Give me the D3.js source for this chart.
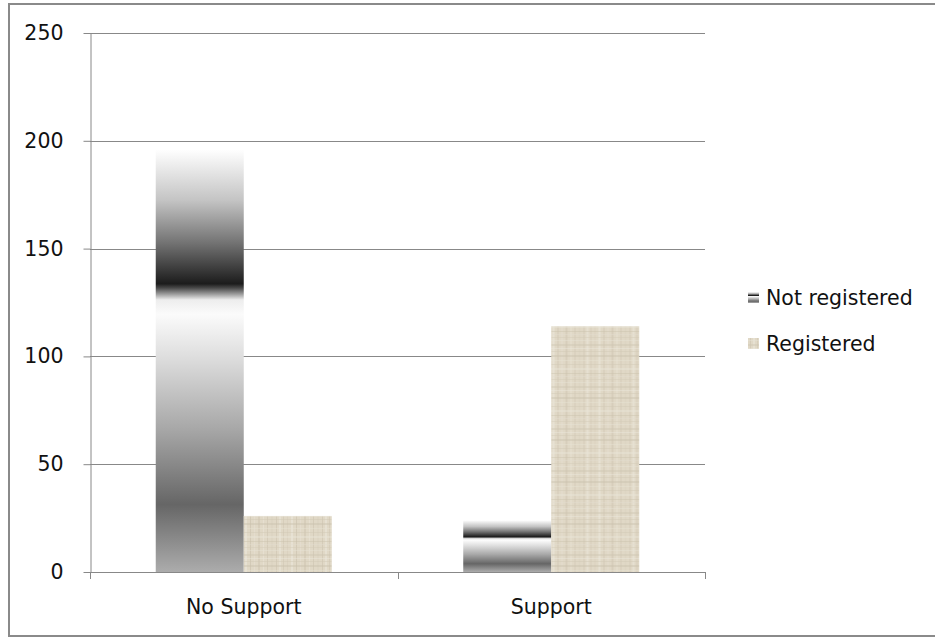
<!DOCTYPE html>
<html>
<head>
<meta charset="utf-8">
<script src="https://cdn.jsdelivr.net/npm/d3@7"></script>
<style>
  html, body { margin: 0; padding: 0; background: #fff; }
  svg { display: block; }
  text { font-family: "DejaVu Sans", sans-serif; fill: #111; }
</style>
</head>
<body>
<svg id="chart" width="935" height="638"></svg>
<script>
// Chart data
const categories = ["No Support", "Support"];
const seriesNames = ["Not registered", "Registered"];
const notRegistered = [196, 24];
const registered = [26, 114];
const yTicks = [0, 50, 100, 150, 200, 250];

const svg = d3.select("#chart");
const W = 935, H = 638;
const FONT = 20.5;

// Outer chart frame
svg.append("rect")
  .attr("x", 9).attr("y", 4)
  .attr("width", W).attr("height", 632)
  .attr("fill", "#fff")
  .attr("stroke", "#8a8a8a").attr("stroke-width", 2);

const plot = { left: 90, right: 705, top: 33, bottom: 572 };

const y = d3.scaleLinear().domain([0, 250]).range([plot.bottom, plot.top]);
const x = d3.scaleBand().domain(categories).range([plot.left, plot.right]).padding(0);
const xSub = d3.scaleBand().domain(seriesNames).range([0, x.bandwidth()])
  .paddingInner(0).paddingOuter(0.747);

const defs = svg.append("defs");

// Metallic banded gradient for the "Not registered" bars
const metal = defs.append("linearGradient")
  .attr("id", "metal").attr("x1", 0).attr("y1", 0).attr("x2", 0).attr("y2", 1);
[
  [0.00, "#ffffff"], [0.12, "#c4c4c4"], [0.22, "#747474"], [0.318, "#1c1c1c"],
  [0.328, "#4a4a4a"], [0.342, "#9a9a9a"], [0.356, "#ededed"], [0.39, "#fbfbfb"],
  [0.49, "#dedede"], [0.66, "#a8a8a8"], [0.84, "#666666"], [1.00, "#acacac"]
].forEach(([o, c]) => metal.append("stop").attr("offset", o).attr("stop-color", c));

// Woven linen texture for the "Registered" bars
const linen = defs.append("pattern")
  .attr("id", "linen").attr("patternUnits", "userSpaceOnUse")
  .attr("width", 46).attr("height", 42);
linen.append("rect").attr("width", 46).attr("height", 42).attr("fill", "#e0d8c6");
const warp = [[2, 1, "#cbc2ae"], [5, 2, "#ebe6da"], [9, 1, "#d0c7b3"], [13, 1, "#d6cebc"], [17, 2, "#ede9de"],
              [22, 1, "#c8bfab"], [26, 1, "#e6e0d2"], [30, 2, "#cfc6b2"], [35, 1, "#eae5d9"], [39, 1, "#ccc3af"], [43, 2, "#dad2c1"]];
const weft = [[1, 1, "#d3cab7"], [4, 1, "#e8e3d6"], [8, 2, "#cec5b1"], [12, 1, "#ebe6db"], [15, 1, "#d1c8b4"],
              [19, 2, "#cbc2ad"], [24, 1, "#e7e2d4"], [28, 1, "#d0c7b3"], [32, 2, "#eae5d8"], [37, 1, "#cac1ab"], [40, 1, "#e3dcce"]];
warp.forEach(([p, w, c]) => linen.append("rect").attr("x", p).attr("y", 0).attr("width", w).attr("height", 42).attr("fill", c).attr("opacity", 0.55));
weft.forEach(([p, w, c]) => linen.append("rect").attr("x", 0).attr("y", p).attr("width", 46).attr("height", w).attr("fill", c).attr("opacity", 0.45));

// Horizontal gridlines
svg.append("g").selectAll("line").data(yTicks.filter(t => t > 0)).join("line")
  .attr("x1", plot.left).attr("x2", plot.right)
  .attr("y1", d => Math.round(y(d)) + 0.5).attr("y2", d => Math.round(y(d)) + 0.5)
  .attr("stroke", "#888").attr("stroke-width", 1);

// Bars
const fills = { "Not registered": "url(#metal)", "Registered": "url(#linen)" };
const rows = categories.map((c, i) => ({ cat: c, values: [
  { s: "Not registered", v: notRegistered[i] },
  { s: "Registered", v: registered[i] }
]}));
svg.append("g").selectAll("g").data(rows).join("g")
  .attr("transform", d => `translate(${x(d.cat)},0)`)
  .selectAll("rect").data(d => d.values).join("rect")
  .attr("x", d => xSub(d.s)).attr("width", xSub.bandwidth())
  .attr("y", d => y(d.v)).attr("height", d => y(0) - y(d.v))
  .attr("fill", d => fills[d.s]);

// Y axis
const yAxis = svg.append("g").attr("transform", `translate(${plot.left + 0.5},0)`)
  .call(d3.axisLeft(y).tickValues(yTicks).tickSize(7).tickPadding(20).tickSizeOuter(0));
yAxis.select(".domain").attr("stroke", "#888");
yAxis.selectAll(".tick line").attr("stroke", "#888");
yAxis.selectAll(".tick text").attr("font-size", FONT).attr("fill", "#111")
  .attr("font-family", "'DejaVu Sans', sans-serif");

// X axis
const xAxis = svg.append("g").attr("transform", `translate(0,${plot.bottom + 0.5})`)
  .call(d3.axisBottom(x).tickSize(0).tickPadding(27));
xAxis.select(".domain").attr("stroke", "#888").attr("d", `M${plot.left},0H${plot.right}`);
xAxis.selectAll(".tick text").attr("font-size", FONT).attr("fill", "#111")
  .attr("font-family", "'DejaVu Sans', sans-serif");
// Category separator ticks
const sepPos = [plot.left, x(categories[1]), plot.right];
svg.append("g").selectAll("line").data(sepPos).join("line")
  .attr("x1", d => Math.round(d) + 0.5).attr("x2", d => Math.round(d) + 0.5)
  .attr("y1", plot.bottom).attr("y2", plot.bottom + 7)
  .attr("stroke", "#888");

// Legend
const legend = svg.append("g").attr("transform", "translate(748,0)");
const legendY = [297, 343];
seriesNames.forEach((s, i) => {
  legend.append("rect").attr("x", 0).attr("y", legendY[i] - 5).attr("width", 11).attr("height", 11)
    .attr("fill", fills[s]);
  legend.append("text").attr("x", 18).attr("y", legendY[i] + 1).attr("dy", "0.35em")
    .attr("font-size", FONT).text(s);
});
</script>
</body>
</html>
